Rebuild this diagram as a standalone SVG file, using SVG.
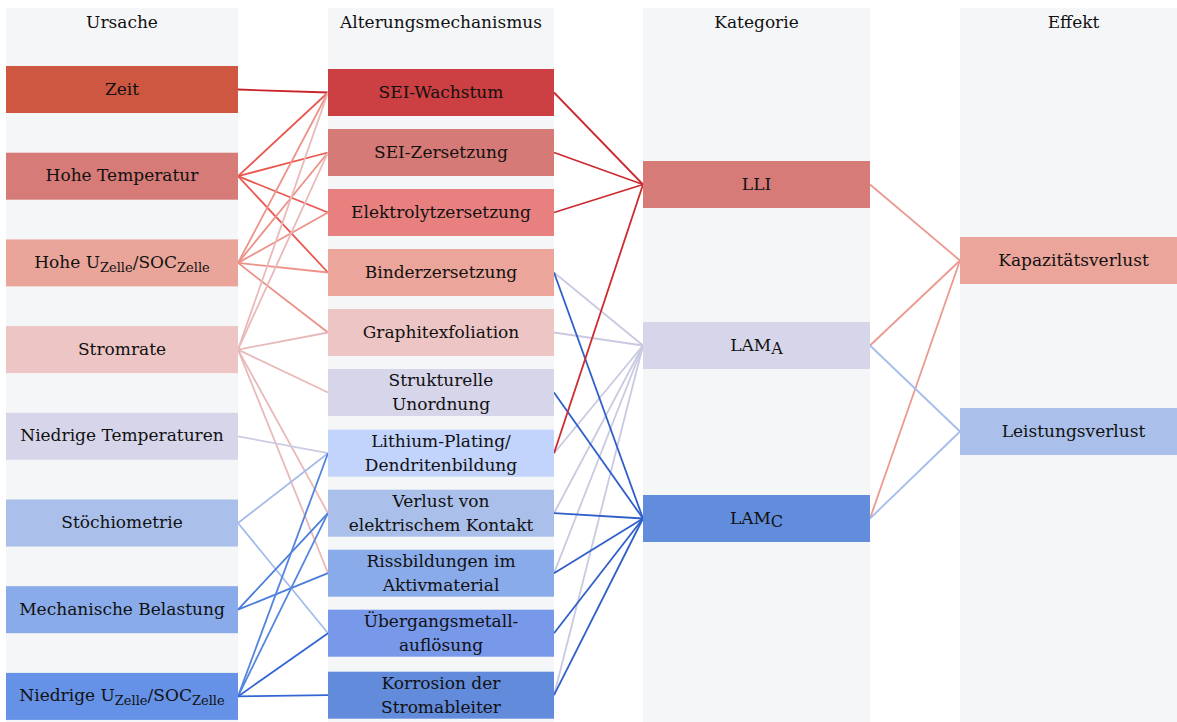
<svg xmlns="http://www.w3.org/2000/svg" width="1177" height="722" viewBox="0 0 1177 722">
<style>
text{font-family:"DejaVu Serif","Liberation Serif",serif;font-size:17px;fill:#111;text-anchor:middle}
.sub{font-size:13px}
.bg{fill:#f5f6f8}
line{stroke-width:1.8;fill:none}
.zeit{stroke:#c9232a}
.hoht{stroke:#e9574f}
.hohu{stroke:#ec9288}
.strom{stroke:#e9b9b9}
.niedt{stroke:#cbcbe4}
.stoe{stroke:#a4bcea}
.mech{stroke:#4a7cdd}
.niedu1{stroke:#5584de}
.niedu2{stroke:#3465d4}
.lli{stroke:#cc2b2f}
.lama{stroke:#c9c9e1}
.lamc{stroke:#2f5fc9}
.kap{stroke:#ec9a90}
.leis{stroke:#a5bdeb}
</style>
<rect width="1177" height="722" fill="#ffffff"/>
<g id="columns">
<rect class="bg" x="6" y="8" width="232" height="714"/>
<rect class="bg" x="328" y="8" width="226" height="714"/>
<rect class="bg" x="643" y="8" width="227" height="714"/>
<rect class="bg" x="960" y="8" width="227" height="714"/>
<text x="122" y="28">Ursache</text>
<text x="441" y="28">Alterungsmechanismus</text>
<text x="756.5" y="28">Kategorie</text>
<text x="1073.5" y="28">Effekt</text>
</g>
<g id="connectors">
<line class="zeit" x1="238" y1="89.5" x2="328" y2="92.5"/>
<line class="hoht" x1="238" y1="176.2" x2="328" y2="92.5"/>
<line class="hoht" x1="238" y1="176.2" x2="328" y2="152.5"/>
<line class="hoht" x1="238" y1="176.2" x2="328" y2="212.5"/>
<line class="hoht" x1="238" y1="176.2" x2="328" y2="272.5"/>
<line class="hohu" x1="238" y1="262.9" x2="328" y2="92.5"/>
<line class="hohu" x1="238" y1="262.9" x2="328" y2="152.5"/>
<line class="hohu" x1="238" y1="262.9" x2="328" y2="212.5"/>
<line class="hohu" x1="238" y1="262.9" x2="328" y2="272.5"/>
<line class="hohu" x1="238" y1="262.9" x2="328" y2="332.5"/>
<line class="strom" x1="238" y1="349.6" x2="328" y2="92.5"/>
<line class="strom" x1="238" y1="349.6" x2="328" y2="152.5"/>
<line class="strom" x1="238" y1="349.6" x2="328" y2="332.5"/>
<line class="strom" x1="238" y1="349.6" x2="328" y2="392.5"/>
<line class="strom" x1="238" y1="349.6" x2="328" y2="513.2"/>
<line class="strom" x1="238" y1="349.6" x2="328" y2="573.2"/>
<line class="niedt" x1="238" y1="436.3" x2="328" y2="453.2"/>
<line class="stoe" x1="238" y1="523" x2="328" y2="453.2"/>
<line class="stoe" x1="238" y1="523" x2="328" y2="633.2"/>
<line class="mech" x1="238" y1="609.7" x2="328" y2="513.2"/>
<line class="mech" x1="238" y1="609.7" x2="328" y2="573.2"/>
<line class="niedu1" x1="238" y1="696.4" x2="328" y2="453.2"/>
<line class="niedu1" x1="238" y1="696.4" x2="328" y2="513.2"/>
<line class="niedu2" x1="238" y1="696.4" x2="328" y2="633.2"/>
<line class="niedu2" x1="238" y1="696.4" x2="328" y2="695.2"/>
<line class="lama" x1="554" y1="272.5" x2="643" y2="345.5"/>
<line class="lama" x1="554" y1="332.5" x2="643" y2="345.5"/>
<line class="lama" x1="554" y1="453.2" x2="643" y2="345.5"/>
<line class="lama" x1="554" y1="513.2" x2="643" y2="345.5"/>
<line class="lama" x1="554" y1="573.2" x2="643" y2="345.5"/>
<line class="lama" x1="554" y1="695.2" x2="643" y2="345.5"/>
<line class="lamc" x1="554" y1="272.5" x2="643" y2="518.5"/>
<line class="lamc" x1="554" y1="392.5" x2="643" y2="518.5"/>
<line class="lamc" x1="554" y1="513.2" x2="643" y2="518.5"/>
<line class="lamc" x1="554" y1="573.2" x2="643" y2="518.5"/>
<line class="lamc" x1="554" y1="633.2" x2="643" y2="518.5"/>
<line class="lamc" x1="554" y1="695.2" x2="643" y2="518.5"/>
<line class="lli" x1="554" y1="92.5" x2="643" y2="184.5"/>
<line class="lli" x1="554" y1="152.5" x2="643" y2="184.5"/>
<line class="lli" x1="554" y1="212.5" x2="643" y2="184.5"/>
<line class="lli" x1="554" y1="453.2" x2="643" y2="184.5"/>
<line class="kap" x1="870" y1="184.5" x2="960" y2="260.5"/>
<line class="kap" x1="870" y1="345.5" x2="960" y2="260.5"/>
<line class="kap" x1="870" y1="518.5" x2="960" y2="260.5"/>
<line class="leis" x1="870" y1="345.5" x2="960" y2="431.5"/>
<line class="leis" x1="870" y1="518.5" x2="960" y2="431.5"/>
</g>
<g id="n-zeit"><rect x="6" y="66" width="232" height="47" fill="#cd5740"/><text x="122" y="94.5">Zeit</text></g>
<g id="n-hohe-temperatur"><rect x="6" y="152.7" width="232" height="47" fill="#d67b77"/><text x="122" y="181.2">Hohe Temperatur</text></g>
<g id="n-hohe-u"><rect x="6" y="239.4" width="232" height="47" fill="#eaa59a"/><text x="122" y="267.9">Hohe U<tspan class="sub" dy="4">Zelle</tspan><tspan dy="-4">/SOC</tspan><tspan class="sub" dy="4">Zelle</tspan></text></g>
<g id="n-stromrate"><rect x="6" y="326.1" width="232" height="47" fill="#edc5c5"/><text x="122" y="354.6">Stromrate</text></g>
<g id="n-niedrige-temperaturen"><rect x="6" y="412.8" width="232" height="47" fill="#d7d5ea"/><text x="122" y="441.3">Niedrige Temperaturen</text></g>
<g id="n-stoechiometrie"><rect x="6" y="499.5" width="232" height="47" fill="#aac0ea"/><text x="122" y="528">Stöchiometrie</text></g>
<g id="n-mechanische-belastung"><rect x="6" y="586.2" width="232" height="47" fill="#89abea"/><text x="122" y="614.7">Mechanische Belastung</text></g>
<g id="n-niedrige-u"><rect x="6" y="672.9" width="232" height="47" fill="#6591e6"/><text x="122" y="701.4">Niedrige U<tspan class="sub" dy="4">Zelle</tspan><tspan dy="-4">/SOC</tspan><tspan class="sub" dy="4">Zelle</tspan></text></g>
<g id="m-sei-wachstum"><rect x="328" y="69" width="226" height="47" fill="#cc3f42"/><text x="441" y="97.5">SEI-Wachstum</text></g>
<g id="m-sei-zersetzung"><rect x="328" y="129" width="226" height="47" fill="#d57a76"/><text x="441" y="157.5">SEI-Zersetzung</text></g>
<g id="m-elektrolytzersetzung"><rect x="328" y="189" width="226" height="47" fill="#e88080"/><text x="441" y="217.5">Elektrolytzersetzung</text></g>
<g id="m-binderzersetzung"><rect x="328" y="249" width="226" height="47" fill="#eba59a"/><text x="441" y="277.5">Binderzersetzung</text></g>
<g id="m-graphitexfoliation"><rect x="328" y="309" width="226" height="47" fill="#edc5c5"/><text x="441" y="337.5">Graphitexfoliation</text></g>
<g id="m-strukturelle-unordnung"><rect x="328" y="369" width="226" height="47" fill="#d7d5ea"/><text x="441" y="386">Strukturelle</text><text x="441" y="410">Unordnung</text></g>
<g id="m-lithium-plating"><rect x="328" y="429.7" width="226" height="47" fill="#c2d3fc"/><text x="441" y="446.7">Lithium-Plating/</text><text x="441" y="470.7">Dendritenbildung</text></g>
<g id="m-verlust-kontakt"><rect x="328" y="489.7" width="226" height="47" fill="#aac0ea"/><text x="441" y="506.7">Verlust von</text><text x="441" y="530.7">elektrischem Kontakt</text></g>
<g id="m-rissbildungen"><rect x="328" y="549.7" width="226" height="47" fill="#8aabea"/><text x="441" y="566.7">Rissbildungen im</text><text x="441" y="590.7">Aktivmaterial</text></g>
<g id="m-uebergangsmetall"><rect x="328" y="609.7" width="226" height="47" fill="#7898ea"/><text x="441" y="626.7">Übergangsmetall-</text><text x="441" y="650.7">auflösung</text></g>
<g id="m-korrosion"><rect x="328" y="671.7" width="226" height="47" fill="#628bdc"/><text x="441" y="689.2">Korrosion der</text><text x="441" y="713.2">Stromableiter</text></g>
<g id="k-lli"><rect x="643" y="161" width="227" height="47" fill="#d67b77"/><text x="756.5" y="189.5">LLI</text></g>
<g id="k-lama"><rect x="643" y="322" width="227" height="47" fill="#d7d5ea"/><text x="756.5" y="350.5">LAM<tspan dy="3" font-size="16">A</tspan></text></g>
<g id="k-lamc"><rect x="643" y="495" width="227" height="47" fill="#628cdc"/><text x="756.5" y="523.5">LAM<tspan dy="3" font-size="16">C</tspan></text></g>
<g id="e-kapazitaetsverlust"><rect x="960" y="237" width="227" height="47" fill="#eba59a"/><text x="1073.5" y="265.5">Kapazitätsverlust</text></g>
<g id="e-leistungsverlust"><rect x="960" y="408" width="227" height="47" fill="#aac0ea"/><text x="1073.5" y="436.5">Leistungsverlust</text></g>
</svg>
